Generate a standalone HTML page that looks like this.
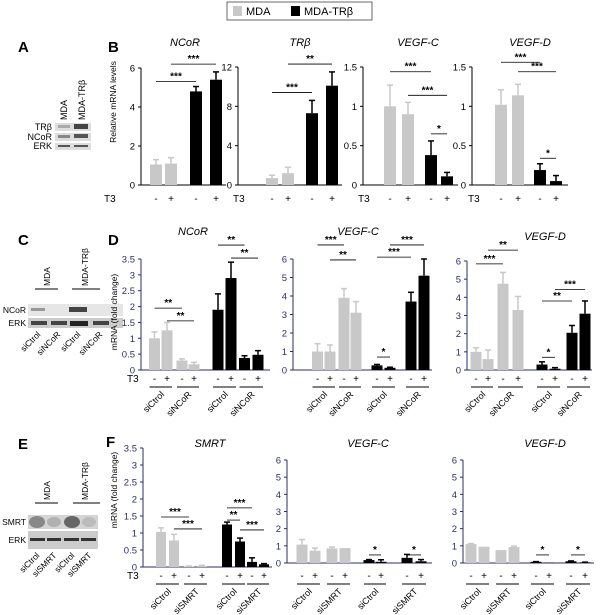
<!DOCTYPE html>
<html><head><meta charset="utf-8"><style>
body{margin:0;background:#fff;width:600px;height:615px;overflow:hidden}
svg{display:block;font-family:"Liberation Sans",Arial,sans-serif}
</style></head><body>
<svg id="fig" width="600" height="615" viewBox="0 0 600 615">
<g>
<rect x="227" y="2" width="145" height="18" fill="#fff" stroke="#444" stroke-width="0.8"/>
<rect x="233" y="6" width="9" height="10" fill="#c8c8c8"/>
<text x="246" y="15" font-size="11">MDA</text>
<rect x="291" y="6" width="9" height="10" fill="#000"/>
<text x="304" y="15" font-size="11">MDA-TRβ</text>
</g>
<g font-weight="bold" font-size="15">
<text x="18" y="52">A</text><text x="108" y="52">B</text>
<text x="18" y="245">C</text><text x="108" y="245">D</text>
<text x="18" y="449">E</text><text x="106" y="447">F</text>
</g>
<g font-size="9">
<text transform="translate(67,120) rotate(-90)">MDA</text>
<text transform="translate(85,120) rotate(-90)">MDA-TRβ</text>
<rect x="55" y="123" width="36" height="8" fill="#ddd"/>
<rect x="58" y="125" width="12" height="3" fill="#aaa"/><rect x="74" y="124" width="14" height="5" fill="#444"/>
<rect x="55" y="133" width="36" height="8" fill="#ddd"/>
<rect x="58" y="135" width="12" height="3" fill="#888"/><rect x="74" y="134" width="14" height="4" fill="#555"/>
<rect x="55" y="143" width="36" height="7" fill="#ddd"/>
<rect x="58" y="145" width="12" height="2" fill="#555"/><rect x="74" y="145" width="14" height="2" fill="#555"/>
<text x="52" y="130" text-anchor="end">TRβ</text>
<text x="52" y="140" text-anchor="end">NCoR</text>
<text x="52" y="149" text-anchor="end">ERK</text>
</g>
<g font-size="8.5">
<line x1="35" y1="289" x2="58" y2="289" stroke="#000"/><line x1="72" y1="289" x2="100" y2="289" stroke="#000"/>
<text transform="translate(50,286) rotate(-90)">MDA</text>
<text transform="translate(88,286) rotate(-90)">MDA-TRβ</text>
<rect x="28" y="304" width="95" height="12" fill="#e6e6e6"/>
<rect x="31" y="308" width="14" height="3" fill="#999"/><rect x="69" y="307" width="18" height="5" fill="#444"/>
<rect x="28" y="318" width="95" height="10" fill="#ccc"/>
<rect x="31" y="321" width="16" height="4" fill="#444"/><rect x="51" y="321" width="16" height="4" fill="#444"/><rect x="70" y="321" width="18" height="5" fill="#222"/><rect x="93" y="321" width="16" height="4" fill="#444"/>
<text x="26" y="313" text-anchor="end">NCoR</text>
<text x="26" y="326" text-anchor="end">ERK</text>
<text transform="translate(41,335) rotate(-45)" text-anchor="end">siCtrol</text>
<text transform="translate(61,335) rotate(-45)" text-anchor="end">siNCoR</text>
<text transform="translate(81,335) rotate(-45)" text-anchor="end">siCtrol</text>
<text transform="translate(103,335) rotate(-45)" text-anchor="end">siNCoR</text>
</g>
<g font-size="8.5">
<line x1="35" y1="503" x2="58" y2="503" stroke="#000"/><line x1="73" y1="503" x2="100" y2="503" stroke="#000"/>
<text transform="translate(50,500) rotate(-90)">MDA</text>
<text transform="translate(88,500) rotate(-90)">MDA-TRβ</text>
<rect x="28" y="515" width="70" height="14" fill="#d4d4d4"/>
<ellipse cx="37" cy="522" rx="8" ry="6" fill="#888"/><ellipse cx="54" cy="522" rx="7" ry="5" fill="#b0b0b0"/><ellipse cx="72" cy="522" rx="8" ry="6" fill="#666"/><ellipse cx="89" cy="522" rx="7" ry="5" fill="#bbb"/>
<rect x="28" y="531" width="70" height="18" fill="#ccc"/>
<rect x="30" y="538" width="15" height="3" fill="#333"/><rect x="47" y="538" width="14" height="3" fill="#333"/><rect x="64" y="538" width="15" height="3" fill="#333"/><rect x="81" y="538" width="15" height="3" fill="#333"/>
<text x="26" y="525" text-anchor="end">SMRT</text>
<text x="26" y="543" text-anchor="end">ERK</text>
<text transform="translate(40,556) rotate(-45)" text-anchor="end">siCtrol</text>
<text transform="translate(57,556) rotate(-45)" text-anchor="end">siSMRT</text>
<text transform="translate(75,556) rotate(-45)" text-anchor="end">siCtrol</text>
<text transform="translate(92,556) rotate(-45)" text-anchor="end">siSMRT</text>
</g>
<text transform="translate(116,102) rotate(-90)" text-anchor="middle" font-size="8.5">Relative mRNA levels</text>
<text transform="translate(117,312) rotate(-90)" text-anchor="middle" font-size="8.5">mRNA (fold change)</text>
<text transform="translate(117,490) rotate(-90)" text-anchor="middle" font-size="8.5">mRNA (fold change)</text>
<g id="charts"></g>
</svg>
<script>
// Panel B data
const bNcorVals=[1.05,1.1,4.8,5.4], bNcorErr=[0.25,0.3,0.25,0.4];
const bTrbVals=[0.7,1.2,7.3,10.1], bTrbErr=[0.3,0.6,1.3,1.4];
const bVegfcVals=[1.0,0.9,0.38,0.11], bVegfcErr=[0.27,0.15,0.18,0.05];
const bVegfdVals=[1.02,1.14,0.19,0.05], bVegfdErr=[0.19,0.14,0.08,0.07];
const bColors=['g','g','k','k'];
// Panel D data
const dNcorVals=[1.0,1.25,0.3,0.18,1.9,2.9,0.38,0.48], dNcorErr=[0.2,0.25,0.05,0.06,0.5,0.5,0.07,0.13];
const dVegfcVals=[1.0,1.0,3.9,3.1,0.25,0.12,3.7,5.1], dVegfcErr=[0.42,0.35,0.5,0.6,0.05,0.03,0.5,0.9];
const dVegfdVals=[1.0,0.6,4.75,3.3,0.3,0.07,2.05,3.1], dVegfdErr=[0.22,0.5,0.62,0.75,0.15,0.06,0.4,0.7];
// Panel F data
const fSmrtVals=[1.03,0.78,0.02,0.03,1.25,0.75,0.15,0.08], fSmrtErr=[0.12,0.18,0.01,0.02,0.07,0.1,0.12,0.02];
const fVegfcVals=[1.07,0.72,0.85,0.87,0.17,0.07,0.3,0.1], fVegfcErr=[0.3,0.15,0.08,0.0,0.03,0.12,0.2,0.1];
const fVegfdVals=[1.1,0.95,0.75,0.93,0.07,0.02,0.1,0.04], fVegfdErr=[0.03,0.0,0.0,0.05,0.01,0.0,0.02,0.01];
const dfColors=['g','g','g','g','k','k','k','k'];
const t3Signs=['-','+','-','+','-','+','-','+'];
const ticksB1=[0,2,4,6], ticksB2=[0,4,8,12], ticksB3=[0,0.5,1,1.5];
const ticksD1=[0,0.5,1,1.5,2,2.5,3,3.5], ticksD2=[0,1,2,3,4,5,6];
const groupsD=['siCtrol','siNCoR','siCtrol','siNCoR'];
const groupsF=['siCtrol','siSMRT','siCtrol','siSMRT'];
const sigB1=[[0,2,5.3,'***'],[1,3,6.2,'***']];
const sigB2=[[0,2,9.4,'***'],[1,3,12.3,'**']];
const sigB3=[[0,2,1.44,'***'],[1,3,1.14,'***'],[2,3,0.65,'*']];
const sigB4=[[0,2,1.56,'***'],[1,3,1.44,'***'],[2,3,0.34,'*']];
const sigD1=[[0,2,1.95,'**'],[1,3,1.55,'**'],[4,6,3.94,'**'],[5,7,3.53,'**']];
const sigD2=[[0,2,6.76,'***'],[1,3,5.95,'**'],[4,6,6.1,'***'],[5,7,6.76,'***'],[4,5,0.7,'*']];
const sigD3=[[0,2,5.84,'***'],[1,3,6.6,'**'],[4,5,0.7,'*'],[4,6,3.8,'**'],[5,7,4.43,'***']];
const sigF1=[[0,2,1.47,'***'],[1,3,1.12,'***'],[4,6,1.74,'***'],[4,5,1.38,'**'],[5,7,1.09,'***']];
const sigF2=[[4,5,0.47,'*'],[6,7,0.47,'*']];
const sigF3=[[4,5,0.47,'*'],[6,7,0.47,'*']];

const NS='http://www.w3.org/2000/svg';
const root=document.getElementById('charts');
function mk(tag,attrs,parent,text){const e=document.createElementNS(NS,tag);for(const k in attrs)e.setAttribute(k,attrs[k]);if(text!==undefined)e.textContent=text;parent.appendChild(e);return e;}

function chart(c){
  const g=mk('g',{},root);
  
  
  const ymax=c.ticks[c.ticks.length-1];
  const y=v=>c.y0-(v/ymax)*(c.y0-c.yTop);
  const x=i=>c.cx[i];
  const ac=c.axisColor;
  mk('line',{x1:c.ax,y1:c.yTop,x2:c.ax,y2:c.y0,stroke:ac,'stroke-width':1},g);
  mk('line',{x1:c.ax,y1:c.y0,x2:c.xEnd,y2:c.y0,stroke:ac,'stroke-width':1},g);
  c.ticks.forEach(t=>{
    mk('line',{x1:c.ax-3,y1:y(t),x2:c.ax,y2:y(t),stroke:ac},g);
    const tl=mk('text',{x:c.ax-6,y:y(t)+3.5,'text-anchor':'end','font-size':9.5,fill:ac},g,String(t));
    
    
  });
  mk('text',{x:c.titleX,y:c.titleY,'text-anchor':'middle','font-size':11,'font-style':'italic'},g,c.title);
  c.vals.forEach((v,i)=>{
    const col=c.colors[i]==='g'?'#c8c8c8':'#000';
    const e=c.err[i];
    if(e>0){
      mk('line',{x1:x(i),y1:y(v),x2:x(i),y2:y(v+e),stroke:col,'stroke-width':1.5},g);
      mk('line',{x1:x(i)-3,y1:y(v+e),x2:x(i)+3,y2:y(v+e),stroke:col,'stroke-width':1.5},g);
    }
    const b=mk('rect',{x:x(i)-c.bw/2,y:y(v),width:c.bw,height:c.y0-y(v),fill:col},g);
    
    
    mk('text',{x:x(i),y:c.t3y,'text-anchor':'middle','font-size':10},g,t3Signs[i]);
  });
  mk('text',{x:c.t3x,y:c.t3y,'font-size':10},g,'T3');
  c.sig.forEach(s=>{
    const yy=y(s[2]);
    mk('line',{x1:x(s[0]),y1:yy,x2:x(s[1]),y2:yy,stroke:'#000','stroke-width':0.8},g);
    mk('text',{x:(x(s[0])+x(s[1]))/2,y:yy-2,'text-anchor':'middle','font-size':10,'font-weight':'bold'},g,s[3]);
  });
  if(c.groups){
    c.groups.forEach((lab,k)=>{
      const m=(x(2*k)+x(2*k+1))/2;
      mk('line',{x1:x(2*k)-5,y1:c.t3y+5,x2:x(2*k+1)+5,y2:c.t3y+5,stroke:'#000','stroke-width':1},g);
      const t=mk('text',{transform:`translate(${m+4},${c.t3y+13}) rotate(-45)`,'text-anchor':'end','font-size':9},g,lab);
      
      
    });
  }
}
const navy='#2a2e6a';
chart({name:'chart-b-ncor',title:'NCoR',titleX:185,titleY:46,ax:141,xEnd:226,yTop:68,y0:185,ticks:ticksB1,vals:bNcorVals,err:bNcorErr,colors:bColors,cx:[156,171,196,216],bw:12,axisColor:'#000',t3x:104,t3y:202,sig:sigB1});
chart({name:'chart-b-trb',title:'TRβ',titleX:300,titleY:46,ax:238,xEnd:342,yTop:67,y0:185,ticks:ticksB2,vals:bTrbVals,err:bTrbErr,colors:bColors,cx:[272,288,312,332],bw:12,axisColor:'#000',t3x:233,t3y:202,sig:sigB2});
chart({name:'chart-b-vegfc',title:'VEGF-C',titleX:418,titleY:46,ax:363,xEnd:458,yTop:67,y0:185,ticks:ticksB3,vals:bVegfcVals,err:bVegfcErr,colors:bColors,cx:[390,408,431,447],bw:12,axisColor:'#000',t3x:358,t3y:202,sig:sigB3});
chart({name:'chart-b-vegfd',title:'VEGF-D',titleX:530,titleY:46,ax:472,xEnd:568,yTop:67,y0:185,ticks:ticksB3,vals:bVegfdVals,err:bVegfdErr,colors:bColors,cx:[501,518,540,556],bw:12,axisColor:'#000',t3x:468,t3y:202,sig:sigB4});
chart({name:'chart-d-ncor',title:'NCoR',titleX:193,titleY:235,ax:141,xEnd:270,yTop:259,y0:370,ticks:ticksD1,vals:dNcorVals,err:dNcorErr,colors:dfColors,cx:[154.5,167,182,194,218,231,244.5,258],bw:11,axisColor:navy,t3x:127,t3y:382,sig:sigD1,groups:groupsD});
chart({name:'chart-d-vegfc',title:'VEGF-C',titleX:358,titleY:235,ax:293,xEnd:432,yTop:259,y0:370,ticks:ticksD2,vals:dVegfcVals,err:dVegfcErr,colors:dfColors,cx:[317.5,330,344,356,377,390,411,424],bw:11,axisColor:navy,t3x:-100,t3y:382,sig:sigD2,groups:groupsD});
chart({name:'chart-d-vegfd',title:'VEGF-D',titleX:545,titleY:240,ax:467,xEnd:592,yTop:261,y0:370,ticks:ticksD2,vals:dVegfdVals,err:dVegfdErr,colors:dfColors,cx:[476,488,503,518,542,555,572,585],bw:11,axisColor:navy,t3x:-100,t3y:382,sig:sigD3,groups:groupsD});
chart({name:'chart-f-smrt',title:'SMRT',titleX:210,titleY:447,ax:143,xEnd:272,yTop:448,y0:567,ticks:ticksD1,vals:fSmrtVals,err:fSmrtErr,colors:dfColors,cx:[161,174,189,202,227,240,252,264],bw:10,axisColor:navy,t3x:127,t3y:579,sig:sigF1,groups:groupsF});
chart({name:'chart-f-vegfc',title:'VEGF-C',titleX:368,titleY:447,ax:287,xEnd:432,yTop:460,y0:563,ticks:ticksD2,vals:fVegfcVals,err:fVegfcErr,colors:dfColors,cx:[302,315,332,345,369,381,407,421],bw:11,axisColor:navy,t3x:-100,t3y:579,sig:sigF2,groups:groupsF});
chart({name:'chart-f-vegfd',title:'VEGF-D',titleX:545,titleY:447,ax:463,xEnd:594,yTop:460,y0:563,ticks:ticksD2,vals:fVegfdVals,err:fVegfdErr,colors:dfColors,cx:[471,484,501,514,536,549,571,585],bw:11,axisColor:navy,t3x:-100,t3y:579,sig:sigF3,groups:groupsF});
</script>
</body></html>
